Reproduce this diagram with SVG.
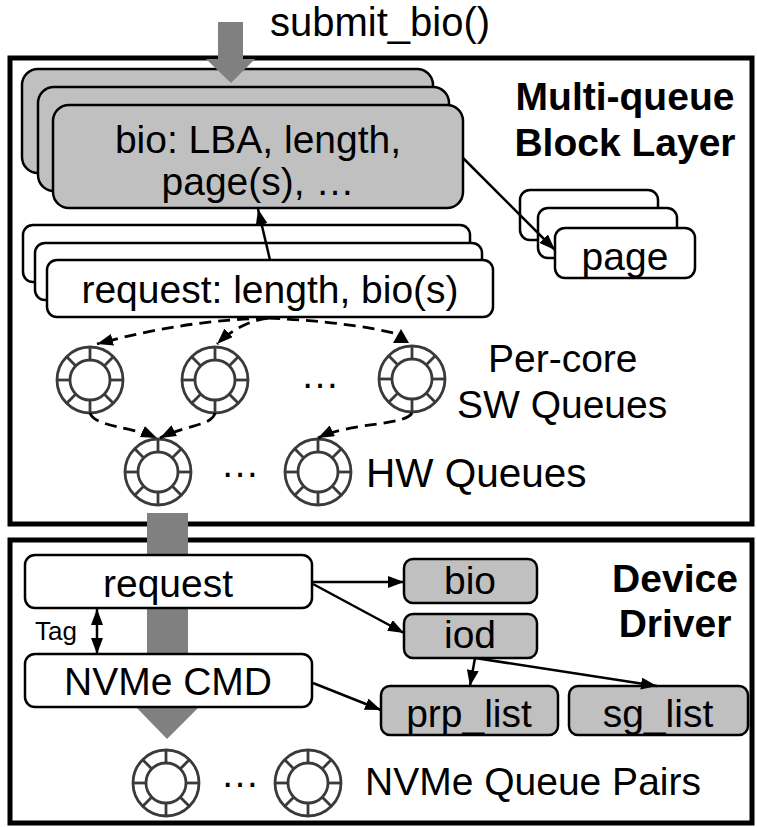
<svg xmlns="http://www.w3.org/2000/svg" width="757" height="827" viewBox="0 0 757 827">
<style>
text{font-family:"Liberation Sans",Arial,sans-serif;fill:#000}
.t{font-size:39px}
.b{font-size:39px;font-weight:bold}
.frame{fill:none;stroke:#000;stroke-width:5}
.g{fill:#c0c0c0;stroke:#000;stroke-width:2.5}
.w{fill:#fff;stroke:#000;stroke-width:2.5}
.ln{fill:none;stroke:#000;stroke-width:2.5}
.dash{fill:none;stroke:#000;stroke-width:2.8;stroke-dasharray:12 7}
.big{fill:#808080}
.ring circle,.ring line{fill:none;stroke:#3a3a3a;stroke-width:2.8}
</style>
<defs>
<marker id="ah" viewBox="0 0 16 12" refX="16" refY="6" markerWidth="16" markerHeight="12" markerUnits="userSpaceOnUse" orient="auto-start-reverse">
<path d="M0,0 L16,6 L0,12 z" fill="#000"/>
</marker>
<g id="ring" class="ring">
<circle r="33"/><circle r="20"/>
<line x1="0" y1="-20" x2="0" y2="-33"/><line x1="0" y1="20" x2="0" y2="33"/>
<line x1="20" y1="0" x2="33" y2="0"/><line x1="-20" y1="0" x2="-33" y2="0"/>
<line x1="14.1" y1="-14.1" x2="23.3" y2="-23.3"/><line x1="-14.1" y1="-14.1" x2="-23.3" y2="-23.3"/>
<line x1="14.1" y1="14.1" x2="23.3" y2="23.3"/><line x1="-14.1" y1="14.1" x2="-23.3" y2="23.3"/>
</g>
</defs>

<g id="block-layer">
<rect class="frame" x="10" y="58" width="742" height="466"/>
<text class="b" x="625" y="110" text-anchor="middle">Multi-queue</text>
<text class="b" x="625" y="156" text-anchor="middle">Block Layer</text>
</g>
<g id="device-driver">
<rect class="frame" x="10" y="540" width="742" height="283"/>
<text class="b" x="675" y="592" text-anchor="middle">Device</text>
<text class="b" x="675" y="637" text-anchor="middle">Driver</text>
</g>

<g id="bio-stack">
<rect class="g" x="22" y="69" width="411" height="104" rx="16"/>
<rect class="g" x="38" y="87" width="411" height="104" rx="16"/>
<rect class="g" x="53" y="105" width="410" height="103" rx="16"/>
<text class="t" x="258" y="153" text-anchor="middle">bio: LBA, length,</text>
<text class="t" x="258" y="195" text-anchor="middle">page(s), …</text>
</g>

<g id="page-stack">
<rect class="w" x="520" y="190" width="138" height="50" rx="10"/>
<rect class="w" x="538" y="208" width="139" height="50" rx="10"/>
<rect class="w" x="555" y="228" width="140" height="50" rx="10"/>
<text class="t" x="625" y="270" text-anchor="middle">page</text>
</g>

<g id="request-stack">
<rect class="w" x="23" y="225" width="447" height="57" rx="10"/>
<rect class="w" x="35" y="243" width="447" height="57" rx="10"/>
<rect class="w" x="47" y="260" width="446" height="57" rx="10"/>
<text class="t" x="270" y="303" text-anchor="middle">request: length, bio(s)</text>
</g>

<g id="sw-queues">
<use href="#ring" x="90" y="380"/>
<use href="#ring" x="215" y="380"/>
<use href="#ring" x="412" y="379"/>
<text class="t" x="320" y="388" text-anchor="middle">…</text>
<text class="t" x="488" y="372">Per-core</text>
<text class="t" x="457" y="418">SW Queues</text>
</g>

<g id="hw-queues">
<use href="#ring" x="158" y="472"/>
<use href="#ring" x="318" y="472"/>
<text class="t" x="240" y="477" text-anchor="middle">…</text>
<text x="366" y="487" style="font-size:40.5px">HW Queues</text>
</g>

<g id="submit">
<path class="big" d="M218,22 H243 V59 H255 L231,83 L206,59 H218 Z"/>
<text x="270" y="36" style="font-size:40px">submit_bio()</text>
</g>

<g id="dispatch-arrow">
<path class="big" d="M147,513 H188 V708 H198 L167,739 L137,708 H147 Z"/>
</g>

<g id="drv-request">
<rect class="w" x="25" y="555" width="287" height="53" rx="10"/>
<text class="t" x="168" y="597" text-anchor="middle">request</text>
</g>
<g id="nvme-cmd">
<rect class="w" x="25" y="654" width="287" height="53" rx="10"/>
<text class="t" x="168" y="695" text-anchor="middle">NVMe CMD</text>
</g>
<g id="tag">
<text x="35" y="640" style="font-size:26px">Tag</text>
</g>
<g id="drv-bio">
<rect class="g" x="404" y="559" width="133" height="44" rx="9"/>
<text class="t" x="470" y="594" text-anchor="middle">bio</text>
</g>
<g id="iod">
<rect class="g" x="404" y="614" width="133" height="44" rx="9"/>
<text class="t" x="470" y="648" text-anchor="middle">iod</text>
</g>
<g id="prp-list">
<rect class="g" x="381" y="686" width="177" height="49" rx="9"/>
<text class="t" x="469" y="727" text-anchor="middle">prp_list</text>
</g>
<g id="sg-list">
<rect class="g" x="569" y="686" width="179" height="49" rx="9"/>
<text class="t" x="658" y="727" text-anchor="middle">sg_list</text>
</g>
<g id="nvme-queues">
<use href="#ring" x="166" y="783"/>
<use href="#ring" x="308" y="783"/>
<text class="t" x="240" y="787" text-anchor="middle">…</text>
<text class="t" x="365" y="795">NVMe Queue Pairs</text>
</g>

<g id="connectors">
<path class="ln" d="M463,158 L555,250" marker-end="url(#ah)"/>
<path class="ln" d="M270,260 L258,209" marker-end="url(#ah)"/>
<path class="dash" d="M268,318 Q185,320 97,344" marker-end="url(#ah)"/>
<path class="dash" d="M268,318 Q240,322 217,344" marker-end="url(#ah)"/>
<path class="dash" d="M268,318 Q350,322 398,334"/>
<path d="M401,329 L409,343 L393,343 Z" fill="#000"/>
<path class="dash" d="M90,413 C95,427 130,426 157,438" marker-end="url(#ah)"/>
<path class="dash" d="M215,413 C212,426 185,425 160,438" marker-end="url(#ah)"/>
<path class="dash" d="M412,413 C405,426 350,422 318,438" marker-end="url(#ah)"/>
<path class="ln" d="M97,609 L97,654" marker-start="url(#ah)" marker-end="url(#ah)"/>
<path class="ln" d="M312,582 L404,582" marker-end="url(#ah)"/>
<path class="ln" d="M313,584 L404,633" marker-end="url(#ah)"/>
<path class="ln" d="M313,683 L381,710" marker-end="url(#ah)"/>
<path class="ln" d="M475,658 L470,686" marker-end="url(#ah)"/>
<path class="ln" d="M475,658 L657,686" marker-end="url(#ah)"/>
</g>
</svg>
